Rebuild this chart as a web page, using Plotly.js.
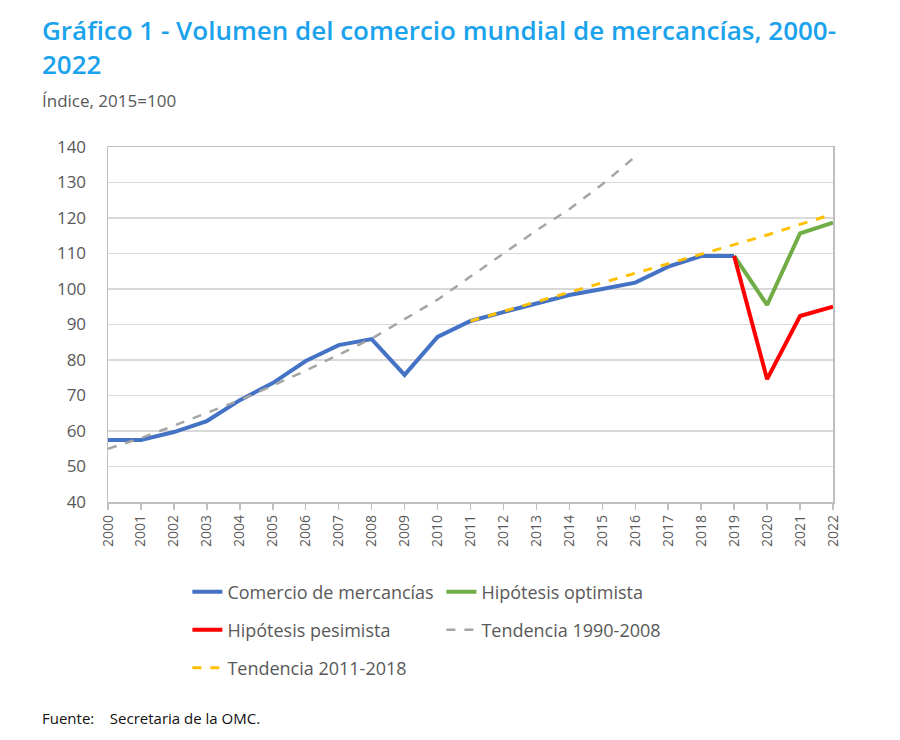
<!DOCTYPE html>
<html><head><meta charset="utf-8">
<script src="https://cdn.plot.ly/plotly-3.0.1.min.js"></script>
<style>body{margin:0;background:#fff}#chart{width:900px;height:740px}</style>
</head><body><div id="chart"></div>
<script>
// Years
const yearsAll = [2000,2001,2002,2003,2004,2005,2006,2007,2008,2009,2010,2011,2012,2013,2014,2015,2016,2017,2018,2019,2020,2021,2022];
// Comercio de mercancías 2000-2019
const yearsComercio = [2000,2001,2002,2003,2004,2005,2006,2007,2008,2009,2010,2011,2012,2013,2014,2015,2016,2017,2018,2019];
const comercio = [57.5,57.5,59.7,62.8,68.7,73.5,79.7,84.2,85.9,75.8,86.5,91.0,93.5,96.0,98.3,100.0,101.8,106.3,109.3,109.3];
// Hipótesis 2019-2022
const yearsHipotesis = [2019,2020,2021,2022];
const optimista = [109.3,95.5,115.7,118.7];
const pesimista = [109.3,74.6,92.4,95.0];
// Tendencia 1990-2008, 2000-2016
const yearsTend1 = [2000,2001,2002,2003,2004,2005,2006,2007,2008,2009,2010,2011,2012,2013,2014,2015,2016];
const tend1 = [55.0,58.0,61.5,65.0,68.7,72.8,77.0,81.5,86.0,91.5,97.0,103.5,110.0,116.5,122.5,129.5,137.3];
// Tendencia 2011-2018, 2011-2022
const yearsTend2 = [2011,2012,2013,2014,2015,2016,2017,2018,2019,2020,2021,2022];
const tend2 = [91.0,93.7,96.4,99.1,101.8,104.5,107.2,109.9,112.6,115.2,118.2,121.1];
const yTicks = [40,50,60,70,80,90,100,110,120,130,140];

const FONT = '"Open Sans", "Noto Sans", sans-serif';
const traces = [
  {x: yearsComercio, y: comercio, name: 'Comercio de mercancías', mode:'lines', line:{color:'#4472C4', width:4}, legend:'legend'},
  {x: yearsHipotesis, y: optimista, name: 'Hipótesis optimista', mode:'lines', line:{color:'#70AD47', width:4}, legend:'legend'},
  {x: yearsHipotesis, y: pesimista, name: 'Hipótesis pesimista', mode:'lines', line:{color:'#FF0000', width:4}, legend:'legend2'},
  {x: yearsTend1, y: tend1, name: 'Tendencia 1990-2008', mode:'lines', line:{color:'#A5A5A5', width:2.5, dash:'dash'}, legend:'legend2'},
  {x: yearsTend2, y: tend2, name: 'Tendencia 2011-2018', mode:'lines', line:{color:'#FFC000', width:3, dash:'dash'}, legend:'legend3'}
];
const legCommon = {orientation:'h', xanchor:'left', yanchor:'middle', entrywidth:209, bgcolor:'rgba(0,0,0,0)', font:{family:FONT, size:18, color:'#595959'}, traceorder:'normal'};
const layout = {
  width:900, height:740,
  paper_bgcolor:'#fff', plot_bgcolor:'#fff',
  margin:{l:108, r:67, t:147, b:238},
  font:{family:FONT, color:'#595959'},
  xaxis:{range:[2000,2022], tickmode:'array', tickvals:yearsAll, ticktext:yearsAll.map(String), tickangle:-90,
    tickfont:{size:14, color:'#595959'}, showgrid:false, zeroline:false, showline:true, linecolor:'#BFBFBF', linewidth:1.5, mirror:true,
    ticks:'outside', ticklen:6, tickcolor:'#BFBFBF', tickwidth:1.5},
  yaxis:{range:[40,140], tickmode:'array', tickvals:yTicks, tickfont:{size:17, color:'#595959'}, showgrid:true, gridcolor:'#D9D9D9', gridwidth:1.5,
    zeroline:false, showline:true, linecolor:'#BFBFBF', linewidth:1.5, mirror:true, ticks:'', ticklabelstandoff:17},
  showlegend:true,
  legend:Object.assign({x:0.1095, y:-0.254}, legCommon),
  legend2:Object.assign({x:0.1095, y:-0.361}, legCommon),
  legend3:Object.assign({x:0.1095, y:-0.468}, legCommon),
  annotations:[
    {xref:'paper', yref:'paper', x:-0.094, y:1.386, xanchor:'left', yanchor:'top', align:'left', showarrow:false,
     text:'Gráfico 1 - Volumen del comercio mundial de mercancías, 2000-<br>2022', font:{family:FONT, size:26, weight:600, color:'#1AA3EC'}},
    {xref:'paper', yref:'paper', x:-0.094, y:1.1296, xanchor:'left', yanchor:'middle', showarrow:false,
     text:'Índice, 2015=100', font:{family:FONT, size:17, color:'#595959'}},
    {xref:'paper', yref:'paper', x:-0.094, y:-0.608, xanchor:'left', yanchor:'middle', showarrow:false,
     text:'Fuente:    Secretaria de la OMC.', font:{family:FONT, size:15, color:'#111'}}
  ]
};
Plotly.newPlot('chart', traces, layout, {displayModeBar:false, staticPlot:true});
</script></body></html>
